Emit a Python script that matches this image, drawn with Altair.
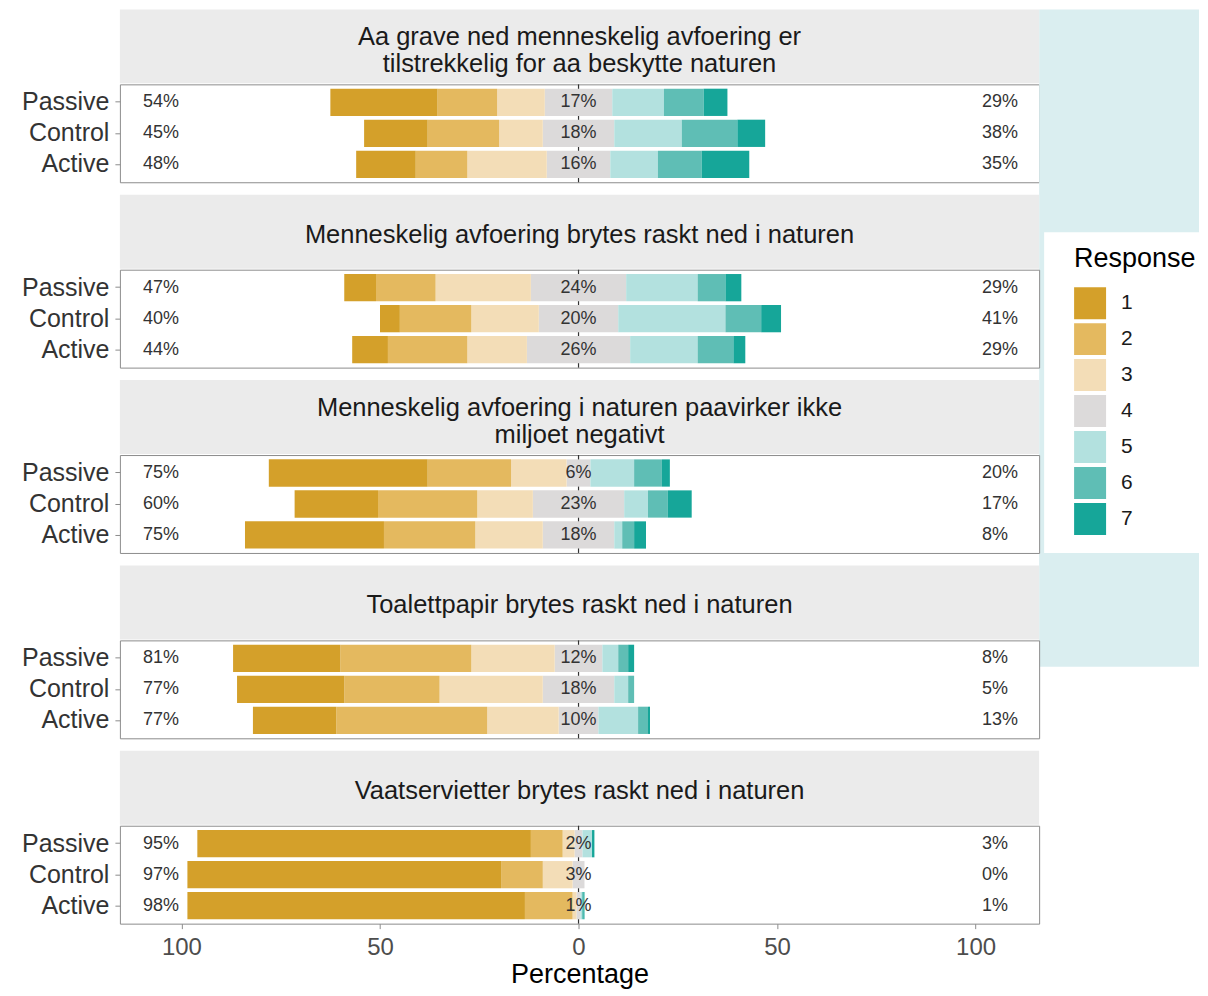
import altair as alt
import pandas as pd

questions = [
    "Aa grave ned menneskelig avfoering er\ntilstrekkelig for aa beskytte naturen",
    "Menneskelig avfoering brytes raskt ned i naturen",
    "Menneskelig avfoering i naturen paavirker ikke\nmiljoet negativt",
    "Toalettpapir brytes raskt ned i naturen",
    "Vaatservietter brytes raskt ned i naturen",
]
groups = ["Passive", "Control", "Active"]
responses = ["1", "2", "3", "4", "5", "6", "7"]
colors = ["#D4A02A", "#E4B95F", "#F3DDB7", "#DCDADA", "#B3E1DF", "#5FBEB5", "#16A699"]

# response shares (%) per group: Passive, Control, Active ; responses 1..7
q1 = [[27, 15, 12, 17, 13, 10, 6], [16, 18, 11, 18, 17, 14, 7], [15, 13, 20, 16, 12, 11, 12]]
q2 = [[8, 15, 24, 24, 18, 7, 4], [5, 18, 17, 20, 27, 9, 5], [9, 20, 15, 26, 17, 9, 3]]
q3 = [[40, 21, 14, 6, 11, 7, 2], [21, 25, 14, 23, 6, 5, 6], [35, 23, 17, 18, 2, 3, 3]]
q4 = [[27, 33, 21, 12, 4, 2.5, 1.5], [27, 24, 26, 18, 3.5, 1.5, 0], [21, 38, 18, 10, 10, 2.5, 0.5]]
q5 = [[84, 8, 3, 2, 2.4, 0, 0.6], [79, 10.5, 7.5, 3, 0, 0, 0], [85, 12, 1, 1, 0.4, 0.3, 0.3]]
shares = [q1, q2, q3, q4, q5]

low_pct = [[54, 45, 48], [47, 40, 44], [75, 60, 75], [81, 77, 77], [95, 97, 98]]
mid_pct = [[17, 18, 16], [24, 20, 26], [6, 23, 18], [12, 18, 10], [2, 3, 1]]
high_pct = [[29, 38, 35], [29, 41, 29], [20, 17, 8], [8, 5, 13], [3, 0, 1]]

FONT = "Liberation Sans"
PW = 920
STRIP_H = 74
BODY_H = 98
LOW_X = -109.7
HIGH_X = 101.6
SIDE_W = 160

xscale = alt.Scale(domain=[-115.5, 116], nice=False, zero=False)
yscale = alt.Scale(domain=groups, paddingInner=0.12, paddingOuter=0.14)
cscale = alt.Scale(domain=responses, range=colors)


def segments(q):
    rows = []
    for g, vals in zip(groups, q):
        mid = vals[3]
        rows.append(dict(group=g, resp="4", x=-mid / 2, x2=mid / 2))
        left = -mid / 2
        for k in [2, 1, 0]:
            rows.append(dict(group=g, resp=responses[k], x=left - vals[k], x2=left))
            left -= vals[k]
        right = mid / 2
        for k in [4, 5, 6]:
            rows.append(dict(group=g, resp=responses[k], x=right, x2=right + vals[k]))
            right += vals[k]
    return pd.DataFrame(rows)


def side_labels(i):
    rows = []
    for j, g in enumerate(groups):
        rows.append(dict(group=g, pos=LOW_X, label=f"{low_pct[i][j]}%"))
        rows.append(dict(group=g, pos=HIGH_X, label=f"{high_pct[i][j]}%"))
    return pd.DataFrame(rows)


def mid_labels(i):
    return pd.DataFrame(
        [dict(group=g, pos=0, label=f"{mid_pct[i][j]}%") for j, g in enumerate(groups)]
    )


one = pd.DataFrame({"a": [0]})

panels = []
for i, q in enumerate(questions):
    last = i == len(questions) - 1
    if last:
        xaxis = alt.Axis(
            values=[-100, -50, 0, 50, 100], labelExpr="abs(datum.value)",
            title="Percentage", titleFontSize=27, titleFontWeight="normal",
            titleColor="#000000", titleFont=FONT, labelFont=FONT,
            labelFontSize=24, labelColor="#4D4D4D", tickColor="#8C8C8C",
            tickSize=5, domain=False, grid=False, labelPadding=7, titlePadding=2,
        )
    else:
        xaxis = None
    yaxis = alt.Axis(
        title=None, labelFontSize=25, labelColor="#333333", labelFont=FONT,
        tickColor="#8C8C8C", tickSize=5, labelPadding=6, domain=False, grid=False,
    )

    layers = []
    if i == 0:
        # light cyan backdrop with the white legend box
        layers.append(
            alt.Chart(one).mark_rect(color="#DAEEF0").encode(
                x=alt.value(PW), x2=alt.value(PW + SIDE_W),
                y=alt.value(-STRIP_H - 1), y2=alt.value(583),
            )
        )
        layers.append(
            alt.Chart(one).mark_rect(color="#FFFFFF").encode(
                x=alt.value(PW + 5), x2=alt.value(PW + SIDE_W),
                y=alt.value(148), y2=alt.value(469),
            )
        )
    # strip header
    layers.append(
        alt.Chart(one).mark_rect(color="#EBEBEB").encode(
            x=alt.value(0), x2=alt.value(PW),
            y=alt.value(-STRIP_H - 1), y2=alt.value(-1),
        )
    )
    nlines = q.count("\n") + 1
    layers.append(
        alt.Chart(pd.DataFrame({"t": [q]})).mark_text(
            lineBreak="\n", fontSize=25.5, font=FONT, color="#1A1A1A",
            align="center", baseline="middle", lineHeight=27,
        ).encode(
            x=alt.value(PW / 2),
            y=alt.value(-35 - (nlines - 1) * 12),
            text="t:N",
        )
    )

    layers.append(
        alt.Chart(pd.DataFrame({"z": [0]})).mark_rule(
            color="#333333", strokeWidth=1.2
        ).encode(x=alt.X("z:Q", scale=xscale, axis=xaxis))
    )

    layers.append(
        alt.Chart(segments(shares[i])).mark_bar().encode(
            x=alt.X("x:Q", scale=xscale, axis=xaxis),
            x2="x2:Q",
            y=alt.Y("group:N", scale=yscale, axis=yaxis, sort=groups),
            color=alt.Color("resp:N", scale=cscale, title="Response"),
        )
    )

    layers.append(
        alt.Chart(side_labels(i)).mark_text(
            align="left", baseline="middle", fontSize=18, font=FONT, color="#333333"
        ).encode(
            x=alt.X("pos:Q", scale=xscale, axis=xaxis),
            y=alt.Y("group:N", scale=yscale, axis=yaxis, sort=groups),
            text="label:N",
        )
    )

    layers.append(
        alt.Chart(mid_labels(i)).mark_text(
            align="center", baseline="middle", fontSize=18, font=FONT, color="#333333"
        ).encode(
            x=alt.X("pos:Q", scale=xscale, axis=xaxis),
            y=alt.Y("group:N", scale=yscale, axis=yaxis, sort=groups),
            text="label:N",
        )
    )

    body = alt.layer(*layers).properties(
        width=PW, height=BODY_H,
        view=alt.ViewBackground(fill="white", stroke="#8C8C8C", strokeWidth=1),
    )
    panels.append(body)

chart = alt.vconcat(*panels, spacing=87.5, bounds="flush").properties(
    padding={"left": 12, "top": 0, "right": 0, "bottom": 0},
    background="white",
).configure(font=FONT).configure_legend(
    orient="none", legendX=955, legendY=162, padding=0,
    titleFontSize=27, titleFontWeight="normal", titleColor="#000000", titleFont=FONT,
    labelFontSize=21, labelColor="#1A1A1A", labelFont=FONT,
    symbolType="square", symbolSize=1024, symbolStrokeWidth=0, symbolOpacity=1,
    rowPadding=4, labelOffset=15, titlePadding=14,
)

chart.save("out.html", embed_options={"renderer": "svg", "actions": False})
